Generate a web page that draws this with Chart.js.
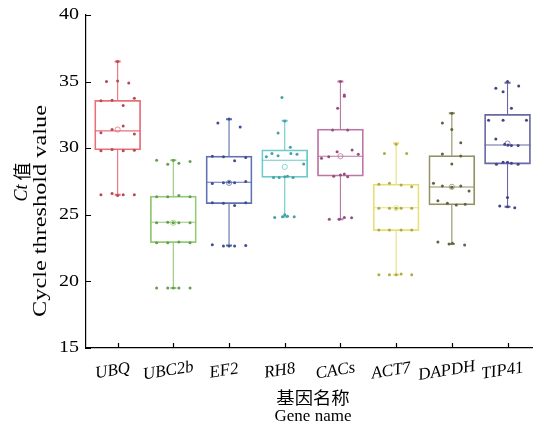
<!DOCTYPE html>
<html>
<head>
<meta charset="utf-8">
<script src="https://cdn.jsdelivr.net/npm/chart.js@4.4.1/dist/chart.umd.min.js"></script>
<style>
  html, body { margin: 0; padding: 0; background: #fff; }
</style>
</head>
<body>
<canvas id="chart" width="537" height="429"></canvas>
<script>
// Box plot data (Ct values)
const genes = ['UBQ', 'UBC2b', 'EF2', 'RH8', 'CACs', 'ACT7', 'DAPDH', 'TIP41'];
const whiskerLow  = [26.5, 19.5, 22.7, 24.85, 24.66, 20.5, 22.8, 25.6];
const q1          = [29.87, 22.9, 25.83, 27.8, 27.9, 23.8, 25.74, 28.81];
const median      = [31.3, 24.44, 27.44, 29.1, 29.4, 25.53, 27.09, 30.24];
const q3          = [33.6, 26.4, 29.4, 29.87, 31.44, 27.31, 29.44, 32.54];
const whiskerHigh = [36.5, 29.1, 32.17, 32.07, 35.0, 30.37, 32.62, 34.92];
const means       = [31.4, 24.4, 27.4, 28.6, 29.4, 25.5, 27.1, 30.35];
const yTicks = [15, 20, 25, 30, 35, 40];

// individual samples: [jitter offset in category units, Ct value]
const ubqPts = [[0, 36.5], [-0.2, 35.0], [0, 35.05], [0.2, 34.9],
  [-0.3, 33.57], [-0.1, 33.6], [0.1, 33.2], [0.3, 33.75],
  [0.1, 31.67], [-0.1, 31.4], [-0.3, 31.16], [0.3, 31.07],
  [-0.3, 29.8], [-0.1, 29.9], [0.1, 29.8], [0.3, 29.85],
  [-0.3, 26.5], [-0.1, 26.6], [0, 26.45], [0.1, 26.5], [0.3, 26.5]];
const ubc2bPts = [[-0.3, 29.1], [-0.1, 28.8], [0, 29.1], [0.1, 28.87], [0.3, 29.0],
  [-0.3, 26.35], [-0.1, 26.35], [0.1, 26.45], [0.3, 26.35],
  [-0.3, 24.4], [-0.1, 24.45], [0, 24.4], [0.1, 24.4], [0.3, 24.4],
  [-0.3, 22.9], [-0.1, 22.9], [0.1, 22.95], [0.3, 22.9],
  [-0.3, 19.5], [-0.1, 19.5], [0, 19.5], [0.1, 19.5], [0.3, 19.5]];
const ef2Pts = [[-0.2, 31.9], [0, 32.2], [0.2, 31.6],
  [-0.3, 29.4], [-0.1, 29.36], [0.1, 29.06], [0.3, 29.3],
  [-0.3, 27.35], [-0.1, 27.4], [0, 27.45], [0.1, 27.4], [0.3, 27.5],
  [-0.3, 25.9], [-0.1, 25.86], [0.1, 25.7], [0.3, 25.9],
  [-0.3, 22.75], [-0.1, 22.65], [0, 22.65], [0.1, 22.65], [0.3, 22.7]];
const rh8Pts = [[-0.05, 33.8], [0, 32.05], [-0.12, 31.15],
  [-0.33, 29.36], [-0.23, 29.6], [-0.12, 29.44], [0.1, 30.07], [0.11, 29.6], [0.22, 29.54], [0.34, 28.81],
  [-0.2, 27.8], [-0.1, 27.8], [0, 27.85], [0.05, 27.9], [0.15, 27.8],
  [-0.18, 24.8], [-0.04, 24.86], [0, 25.0], [0.05, 24.9], [0.17, 24.86]];
const cacsPts = [[0, 35.0], [0.07, 34.0], [0.07, 33.9], [-0.05, 33.0],
  [-0.14, 31.37], [0.13, 31.37], [-0.06, 29.74], [0.21, 29.87],
  [-0.34, 29.24], [-0.21, 29.36], [0.32, 29.54],
  [-0.12, 27.9], [0, 27.99], [0.07, 28.06], [0.13, 27.86],
  [-0.2, 24.66], [-0.02, 24.66], [0.07, 24.8], [0.2, 24.78]];
const act7Pts = [[-0.21, 29.6], [0, 30.3], [0.19, 29.6],
  [-0.31, 27.3], [-0.12, 27.36], [0.09, 27.24], [0.28, 27.1],
  [-0.31, 25.5], [-0.12, 25.5], [0, 25.5], [0.09, 25.5], [0.28, 25.5],
  [-0.31, 23.85], [-0.12, 23.85], [0.09, 23.85], [0.28, 23.85],
  [-0.31, 20.5], [-0.12, 20.5], [0, 20.5], [0.09, 20.55], [0.28, 20.5]];
const dapdhPts = [[0, 32.62], [-0.17, 31.9], [0, 31.4], [0.16, 30.4],
  [-0.17, 29.56], [0.16, 29.41], [0, 28.81],
  [-0.33, 27.36], [-0.17, 27.16], [0, 27.06], [0.16, 27.16], [0.31, 26.79],
  [-0.25, 26.06], [-0.08, 25.86], [0.08, 25.74], [0.24, 25.8],
  [-0.25, 22.96], [-0.05, 22.8], [0.01, 22.86], [0.23, 22.73]];
const tip41Pts = [[0, 35.0], [-0.21, 34.5], [-0.08, 34.24], [0.2, 34.67], [0.07, 33.0],
  [-0.34, 32.1], [-0.08, 32.1], [0.34, 32.1], [-0.21, 30.7],
  [-0.05, 30.3], [0.01, 30.24], [0.07, 30.2], [0.19, 30.2],
  [-0.2, 28.8], [-0.08, 28.94], [0, 28.94], [0.07, 28.87], [0.19, 28.8],
  [0, 26.3], [-0.14, 25.66], [0, 25.6], [0.13, 25.53]];
const samples = [ubqPts, ubc2bPts, ef2Pts, rh8Pts, cacsPts, act7Pts, dapdhPts, tip41Pts];

const boxColors = ['#e8707a', '#94ca76', '#6070b0', '#6ccaca', '#bc76a2', '#e6df78', '#929266', '#6868a4'];
const dotColors = ['#b84852', '#659e50', '#404e92', '#46a0a4', '#94507e', '#b2aa42', '#626240', '#444484'];

const SERIF = '"Liberation Serif", "Times New Roman", serif';
const CJK = '"Noto Sans CJK SC", sans-serif';

function drawText(ctx, s, x, y, font, align, sx) {
    ctx.save();
    ctx.translate(x, y);
    ctx.scale(sx || 1, 1);
    ctx.font = font;
    ctx.textAlign = align;
    ctx.textBaseline = 'middle';
    ctx.fillText(s, 0, 0);
    ctx.restore();
}

// whiskers, caps and medians, drawn under the boxes and dots
const boxLines = {
    id: 'boxLines',
    beforeDatasetsDraw(chart) {
        const { ctx, scales: { y } } = chart;
        const bars = chart.getDatasetMeta(0).data;
        ctx.save();
        genes.forEach((g, i) => {
            const bar = bars[i];
            const half = bar.width / 2;
            ctx.strokeStyle = boxColors[i];
            ctx.lineWidth = 1.1;
            ctx.beginPath();
            ctx.moveTo(bar.x, y.getPixelForValue(q3[i]));
            ctx.lineTo(bar.x, y.getPixelForValue(whiskerHigh[i]));
            ctx.moveTo(bar.x, y.getPixelForValue(q1[i]));
            ctx.lineTo(bar.x, y.getPixelForValue(whiskerLow[i]));
            ctx.moveTo(bar.x - half, y.getPixelForValue(median[i]));
            ctx.lineTo(bar.x + half, y.getPixelForValue(median[i]));
            ctx.stroke();
            ctx.lineWidth = 2;
            ctx.beginPath();
            [whiskerHigh[i], whiskerLow[i]].forEach(v => {
                const py = y.getPixelForValue(v);
                ctx.moveTo(bar.x - 3, py);
                ctx.lineTo(bar.x + 3, py);
            });
            ctx.stroke();
        });
        ctx.restore();
    },
    afterDraw(chart) {
        const { ctx, scales: { x, y }, chartArea } = chart;
        ctx.save();
        ctx.fillStyle = '#000';
        ctx.strokeStyle = '#000';
        ctx.lineWidth = 1.2;
        // inward tick marks
        ctx.beginPath();
        yTicks.forEach(t => {
            const py = Math.round(y.getPixelForValue(t)) + 0.5;
            ctx.moveTo(chartArea.left, py);
            ctx.lineTo(chartArea.left + 5, py);
        });
        genes.forEach((g, i) => {
            const px = Math.round(x.getPixelForValue(i + 1)) + 0.5;
            ctx.moveTo(px, chartArea.bottom);
            ctx.lineTo(px, chartArea.bottom - 5);
        });
        ctx.stroke();
        // y tick labels
        yTicks.forEach(t => {
            drawText(ctx, String(t), chartArea.left - 7, y.getPixelForValue(t), '16px ' + SERIF, 'right', 1.25);
        });
        // x tick labels, slightly tilted
        genes.forEach((g, i) => {
            ctx.save();
            ctx.translate(x.getPixelForValue(i + 1) - 5, chartArea.bottom + 23);
            ctx.rotate(-9 * Math.PI / 180);
            ctx.font = 'italic 17px ' + SERIF;
            ctx.textAlign = 'center';
            ctx.textBaseline = 'middle';
            ctx.fillText(g, 0, 0);
            ctx.restore();
        });
        // x title
        const cx = 313;
        drawText(ctx, '基因名称', cx, chartArea.bottom + 50, '17px ' + CJK, 'center', 1.08);
        drawText(ctx, 'Gene name', cx, chartArea.bottom + 69, '17px ' + SERIF, 'center');
        // y title (two rotated lines)
        ctx.save();
        ctx.translate(22, 182);
        ctx.rotate(-Math.PI / 2);
        ctx.textBaseline = 'middle';
        ctx.font = 'italic 18px ' + SERIF;
        const w1 = ctx.measureText('Ct').width;
        ctx.font = '18px ' + CJK;
        const w2 = ctx.measureText(' 值').width;
        ctx.font = 'italic 18px ' + SERIF;
        ctx.textAlign = 'left';
        ctx.fillText('Ct', -(w1 + w2) / 2, 0);
        ctx.font = '18px ' + CJK;
        ctx.fillText(' 值', -(w1 + w2) / 2 + w1, 0);
        ctx.restore();
        ctx.save();
        ctx.translate(41, 211);
        ctx.rotate(-Math.PI / 2);
        drawText(ctx, 'Cycle threshold value', 0, 0, '18px ' + SERIF, 'center', 1.35);
        ctx.restore();
        ctx.restore();
    }
};

const datasets = [{
    type: 'bar',
    data: genes.map((g, i) => ({ x: i + 1, y: [q1[i], q3[i]] })),
    backgroundColor: 'rgba(255,255,255,0)',
    borderColor: boxColors,
    borderWidth: 1.1,
    borderSkipped: false,
    barThickness: 46,
    order: 3
}];

samples.forEach((pts, i) => {
    datasets.push({
        type: 'scatter',
        data: pts.map(p => ({ x: i + 1 + p[0], y: p[1] })),
        pointRadius: 1.5,
        pointBackgroundColor: dotColors[i],
        pointBorderWidth: 0,
        order: 1
    });
});

datasets.push({
    type: 'scatter',
    data: means.map((m, i) => ({ x: i + 1, y: m })),
    pointRadius: 2.6,
    pointBackgroundColor: 'rgba(255,255,255,0)',
    pointBorderColor: boxColors,
    pointBorderWidth: 0.8,
    order: 2
});

new Chart(document.getElementById('chart'), {
    type: 'bar',
    data: { datasets },
    options: {
        responsive: false,
        animation: false,
        devicePixelRatio: 1,
        layout: { padding: { top: 15, left: 0, right: 0, bottom: 0 } },
        plugins: { legend: { display: false }, tooltip: { enabled: false } },
        scales: {
            x: {
                type: 'linear',
                min: 0.432,
                max: 8.443,
                offset: false,
                grid: { display: false, offset: false },
                border: { display: true, color: '#000', width: 1.2 },
                ticks: { display: false },
                afterFit: s => { s.height = 81; }
            },
            y: {
                type: 'linear',
                min: 15,
                max: 40,
                grid: { display: false },
                border: { display: true, color: '#000', width: 1.2 },
                ticks: { display: false },
                afterFit: s => { s.width = 86; }
            }
        }
    },
    plugins: [boxLines]
});
</script>
</body>
</html>
